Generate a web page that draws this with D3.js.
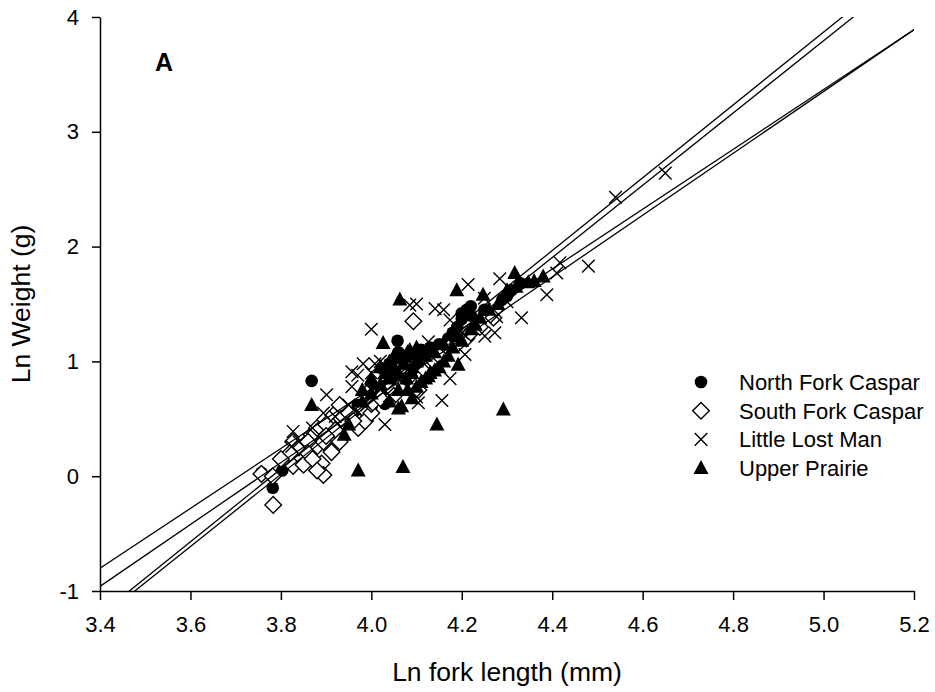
<!DOCTYPE html>
<html>
<head>
<meta charset="utf-8">
<script src="https://cdn.jsdelivr.net/npm/d3@7"></script>
<style>
  body { margin: 0; background: #fff; }
  text { font-family: "Liberation Sans", Arial, sans-serif; fill: #000; }
</style>
</head>
<body>
<script>
// values: [ln fork length, ln weight]
const northFork = [
  [3.757,0.03],[3.782,-0.10],[3.803,0.05],[3.868,0.83],[3.934,0.35],[3.97,0.62],
  [3.98,0.58],[4.0,0.68],[4.0,0.8],[4.023,0.94],[4.02,0.72],[4.04,0.82],[4.05,0.88],
  [4.058,1.18],[4.06,1.0],[4.07,0.95],[4.08,1.04],[4.09,0.93],[4.1,1.05],[4.11,1.1],
  [4.12,0.98],[4.13,1.12],[4.14,1.05],[4.15,1.15],[4.17,1.2],[4.19,1.3],[4.2,1.42],
  [4.211,1.45],[4.22,1.48],[4.2,1.37],[4.25,1.45],[4.29,1.54],[4.3,1.57],[4.31,1.62],
  [4.33,1.68],[3.96,0.55],[3.99,0.52],[4.03,0.63],[4.04,0.98],[4.06,1.08],[4.08,0.88],
  [4.1,0.95],[4.13,1.02],[4.16,1.1],[4.18,1.25],[4.22,1.4],[3.92,0.45],[3.95,0.52],[4.0,0.6]
];
const southFork = [
  [3.757,0.02],[3.783,-0.25],[3.782,0.0],[3.827,0.30],[3.827,0.09],[3.85,0.10],
  [3.868,0.36],[3.875,0.24],[3.89,0.11],[3.894,0.30],[3.894,0.01],[3.912,0.21],
  [3.916,0.53],[3.93,0.62],[3.934,0.50],[3.971,0.42],[3.986,0.48],[3.84,0.25],
  [3.86,0.30],[3.88,0.42],[3.90,0.45],[3.92,0.40],[3.95,0.55],[3.96,0.48],[3.98,0.60],
  [4.0,0.55],[4.0,0.63],[4.02,0.68],[4.04,0.78],[4.05,0.70],[4.093,1.35],[4.104,0.75],
  [4.12,0.92],[4.13,1.0],[4.15,1.05],[4.17,1.12],[4.19,1.15],[4.21,1.2],[4.22,1.25],
  [4.24,1.3],[4.27,1.38],[4.06,0.92],[4.08,0.85],[3.99,0.72],[3.82,0.2],[3.86,0.2],
  [3.87,0.15],[3.9,0.35],[3.93,0.3],[3.8,0.15],[3.88,0.05]
];
const littleLostMan = [
  [3.824,0.26],[3.827,0.39],[3.84,0.30],[3.87,0.42],[3.894,0.55],[3.901,0.71],
  [3.92,0.52],[3.957,0.78],[3.957,0.91],[3.982,0.98],[3.99,0.62],[4.0,1.28],
  [4.008,0.98],[4.03,0.45],[4.04,0.70],[4.06,0.85],[4.085,1.49],[4.1,0.69],
  [4.104,0.64],[4.126,1.17],[4.141,1.46],[4.156,0.66],[4.174,0.85],[4.174,1.36],
  [4.207,1.06],[4.214,1.67],[4.251,1.22],[4.273,1.25],[4.277,1.39],[4.284,1.72],
  [4.332,1.38],[4.388,1.58],[4.41,1.77],[4.417,1.86],[4.48,1.83],[4.54,2.43],
  [4.65,2.64],[4.30,1.52],[4.25,1.55],[4.2,1.25],[4.12,1.0],[4.05,0.95],[3.95,0.62],
  [3.97,0.88],[4.0,0.9],[4.02,1.0],[4.1,1.5],[4.16,1.45]
];
const upperPrairie = [
  [3.868,0.62],[3.971,0.05],[4.07,0.08],[4.06,0.59],[4.063,1.54],[4.026,1.16],
  [4.085,1.10],[4.13,0.90],[4.126,0.87],[4.078,0.85],[4.067,0.61],[4.145,0.45],
  [4.192,0.97],[4.292,0.58],[4.189,1.62],[4.247,1.58],[4.3,1.62],[4.317,1.77],
  [4.347,1.69],[4.38,1.74],[3.94,0.36],[3.95,0.45],[3.98,0.65],[4.0,0.72],[4.02,0.80],
  [4.04,0.85],[4.05,0.95],[4.07,0.98],[4.09,0.9],[4.1,1.0],[4.11,0.82],[4.12,1.05],
  [4.14,1.08],[4.15,0.95],[4.16,1.0],[4.17,1.05],[4.18,1.12],[4.2,1.18],[4.22,1.28],
  [4.23,1.32],[4.26,1.45],[4.28,1.5],[4.32,1.65],[4.36,1.70],[4.08,0.75],[4.1,0.78],
  [4.03,0.9],[4.05,1.05],[4.06,0.75],[4.02,0.95],[4.04,1.0],[4.06,0.9],[4.08,1.08],
  [4.1,1.12],[4.12,0.85],[4.14,0.92],[4.0,0.85],[3.98,0.75],[4.04,0.65],[4.09,0.68],
  [4.16,1.15],[4.19,1.22],[4.24,1.38]
];
// fitted lines: [slope, intercept]
const fits = [[2.606,-9.662],[2.694,-10.119],[3.171,-11.987],[3.147,-11.942]];
const seriesNames = ["North Fork Caspar","South Fork Caspar","Little Lost Man","Upper Prairie"];
const xTicks = [3.4,3.6,3.8,4.0,4.2,4.4,4.6,4.8,5.0,5.2];
const yTicks = [-1,0,1,2,3,4];

const W = 935, H = 692;
const svg = d3.select('body').append('svg').attr('width', W).attr('height', H);

const x = d3.scaleLinear().domain([3.4, 5.2]).range([100, 914]);
const y = d3.scaleLinear().domain([-1, 4]).range([591, 17]);

// symbols
const circle = d3.symbol().type(d3.symbolCircle).size(Math.PI * 6.3 * 6.3)();
const diamond = 'M0,-8.3L8.3,0L0,8.3L-8.3,0Z';
const cross = 'M-6.3,-6.3L6.3,6.3M-6.3,6.3L6.3,-6.3';
const triangle = 'M0,-8L7.5,6L-7.5,6Z';
const styles = [
  {d: circle, fill: '#000', stroke: 'none'},
  {d: diamond, fill: '#fff', stroke: '#000'},
  {d: cross, fill: 'none', stroke: '#000'},
  {d: triangle, fill: '#000', stroke: 'none'}
];
const allSeries = [northFork, southFork, littleLostMan, upperPrairie];

// axes
const xAxis = svg.append('g').attr('transform', 'translate(0,591)')
  .call(d3.axisBottom(x).tickValues(xTicks).tickFormat(d3.format('.1f')).tickSize(9).tickSizeOuter(0).tickPadding(16));
const yAxis = svg.append('g').attr('transform', 'translate(100,0)')
  .call(d3.axisLeft(y).tickValues(yTicks).tickFormat(d => String(d)).tickSize(8).tickSizeOuter(0).tickPadding(13));
[xAxis, yAxis].forEach(a => {
  a.selectAll('path,line').attr('stroke', '#000').attr('stroke-width', 1.5);
  a.selectAll('text').style('font-size', '22px').attr('fill', '#000');
});

// points, drawn series by series
allSeries.forEach((data, i) => {
  svg.append('g').selectAll('path')
    .data(data)
    .enter().append('path')
      .attr('d', styles[i].d)
      .attr('transform', d => `translate(${x(d[0])},${y(d[1])})`)
      .attr('fill', styles[i].fill)
      .attr('stroke', styles[i].stroke)
      .attr('stroke-width', 1.4);
});

// regression lines clipped to the plot box
svg.append('clipPath').attr('id', 'box').append('rect')
  .attr('x', 100).attr('y', 17).attr('width', 814).attr('height', 574);
svg.append('g').attr('clip-path', 'url(#box)')
  .selectAll('line')
  .data(fits)
  .enter().append('line')
    .attr('x1', x(3.4)).attr('y1', d => y(d[0] * 3.4 + d[1]))
    .attr('x2', x(5.2)).attr('y2', d => y(d[0] * 5.2 + d[1]))
    .attr('stroke', '#000').attr('stroke-width', 1.3);

// legend
const legend = svg.append('g').attr('transform', 'translate(701,382)');
seriesNames.forEach((name, i) => {
  const row = legend.append('g').attr('transform', `translate(0,${i * 28.7})`);
  row.append('path').attr('d', styles[i].d)
    .attr('fill', styles[i].fill).attr('stroke', styles[i].stroke).attr('stroke-width', 1.4);
  row.append('text').attr('x', 38).attr('y', 8).style('font-size', '22px').text(name);
});

// panel letter and titles
svg.append('text').attr('x', 164).attr('y', 71).attr('text-anchor', 'middle')
  .style('font-size', '25px').style('font-weight', 'bold').text('A');
svg.append('text').attr('x', 507).attr('y', 681).attr('text-anchor', 'middle')
  .style('font-size', '26.5px').text('Ln fork length (mm)');
svg.append('text').attr('transform', 'translate(30,304) rotate(-90)').attr('text-anchor', 'middle')
  .style('font-size', '26.5px').text('Ln Weight (g)');
</script>
</body>
</html>
